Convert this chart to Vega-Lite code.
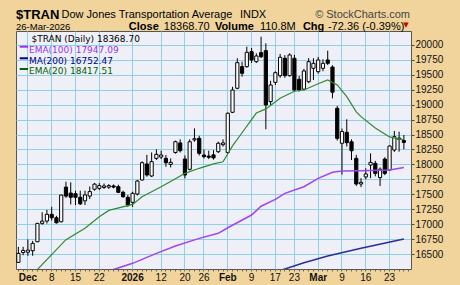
{
"$schema": "https://vega.github.io/schema/vega-lite/v6.json",
"width": 395, "height": 238,
"autosize": {"type": "none"},
"padding": {"left": 16, "top": 31, "right": 49, "bottom": 16},
"background": "#F0D49C",
"config": {"view": {"stroke": "#555555", "fill": "#EFEFF7", "strokeWidth": 1}, "font": "Liberation Sans", "axis": {"gridColor": "#8FD0E6", "gridWidth": 1}},
"datasets": {
"ohlc": [
{"d":"2025-11-26","o":16360,"h":16620,"l":16350,"c":16511},
{"d":"2025-11-28","o":16525,"h":16620,"l":16480,"c":16560},
{"d":"2025-12-01","o":16530,"h":16745,"l":16470,"c":16565},
{"d":"2025-12-02","o":16555,"h":16720,"l":16470,"c":16678},
{"d":"2025-12-03","o":16705,"h":17020,"l":16700,"c":17013},
{"d":"2025-12-04","o":17013,"h":17200,"l":16990,"c":17050},
{"d":"2025-12-05","o":17052,"h":17240,"l":17010,"c":17164},
{"d":"2025-12-08","o":17164,"h":17290,"l":17060,"c":17107},
{"d":"2025-12-09","o":17107,"h":17140,"l":17010,"c":17023},
{"d":"2025-12-10","o":17040,"h":17490,"l":17030,"c":17487},
{"d":"2025-12-11","o":17620,"h":17710,"l":17440,"c":17470},
{"d":"2025-12-12","o":17520,"h":17700,"l":17330,"c":17450},
{"d":"2025-12-15","o":17510,"h":17560,"l":17320,"c":17450},
{"d":"2025-12-16","o":17450,"h":17560,"l":17320,"c":17340},
{"d":"2025-12-17","o":17390,"h":17560,"l":17320,"c":17490},
{"d":"2025-12-18","o":17470,"h":17630,"l":17420,"c":17545},
{"d":"2025-12-19","o":17585,"h":17690,"l":17560,"c":17670},
{"d":"2025-12-22","o":17600,"h":17690,"l":17570,"c":17645},
{"d":"2025-12-23","o":17615,"h":17680,"l":17590,"c":17640},
{"d":"2025-12-24","o":17620,"h":17670,"l":17590,"c":17645},
{"d":"2025-12-26","o":17640,"h":17665,"l":17600,"c":17620},
{"d":"2025-12-29","o":17627,"h":17660,"l":17520,"c":17533},
{"d":"2025-12-30","o":17533,"h":17560,"l":17440,"c":17460},
{"d":"2025-12-31","o":17449,"h":17490,"l":17290,"c":17320},
{"d":"2026-01-02","o":17365,"h":17543,"l":17290,"c":17516},
{"d":"2026-01-05","o":17504,"h":17740,"l":17480,"c":17722},
{"d":"2026-01-06","o":17739,"h":18050,"l":17730,"c":18029},
{"d":"2026-01-07","o":18007,"h":18160,"l":17794,"c":17823},
{"d":"2026-01-08","o":17806,"h":18200,"l":17790,"c":18046},
{"d":"2026-01-09","o":18102,"h":18253,"l":18074,"c":18169},
{"d":"2026-01-12","o":18124,"h":18230,"l":18090,"c":18158},
{"d":"2026-01-13","o":18102,"h":18158,"l":17962,"c":18029},
{"d":"2026-01-14","o":18000,"h":18100,"l":17950,"c":18035},
{"d":"2026-01-15","o":18200,"h":18400,"l":18180,"c":18380},
{"d":"2026-01-16","o":18360,"h":18420,"l":18200,"c":18230},
{"d":"2026-01-20","o":18091,"h":18150,"l":17767,"c":17823},
{"d":"2026-01-21","o":17918,"h":18420,"l":17900,"c":18380},
{"d":"2026-01-22","o":18410,"h":18604,"l":18380,"c":18430},
{"d":"2026-01-23","o":18437,"h":18480,"l":18150,"c":18186},
{"d":"2026-01-26","o":18158,"h":18250,"l":18100,"c":18130},
{"d":"2026-01-27","o":18140,"h":18230,"l":18090,"c":18120},
{"d":"2026-01-28","o":18160,"h":18240,"l":18080,"c":18110},
{"d":"2026-01-29","o":18213,"h":18380,"l":18190,"c":18354},
{"d":"2026-01-30","o":18330,"h":18420,"l":18300,"c":18360},
{"d":"2026-02-02","o":18200,"h":18870,"l":18180,"c":18857},
{"d":"2026-02-03","o":18873,"h":19300,"l":18860,"c":19246},
{"d":"2026-02-04","o":19275,"h":19777,"l":19260,"c":19704},
{"d":"2026-02-05","o":19637,"h":19720,"l":19469,"c":19526},
{"d":"2026-02-06","o":19637,"h":19972,"l":19620,"c":19877},
{"d":"2026-02-09","o":19888,"h":19950,"l":19700,"c":19749},
{"d":"2026-02-10","o":19720,"h":19860,"l":19700,"c":19816},
{"d":"2026-02-11","o":19871,"h":20139,"l":19780,"c":19804},
{"d":"2026-02-12","o":19905,"h":20028,"l":18588,"c":18995},
{"d":"2026-02-13","o":19051,"h":19400,"l":18995,"c":19330},
{"d":"2026-02-17","o":19375,"h":19560,"l":19330,"c":19536},
{"d":"2026-02-18","o":19486,"h":19849,"l":19450,"c":19794},
{"d":"2026-02-19","o":19777,"h":19830,"l":19450,"c":19486},
{"d":"2026-02-20","o":19486,"h":19860,"l":19470,"c":19833},
{"d":"2026-02-23","o":19777,"h":19833,"l":19218,"c":19246},
{"d":"2026-02-24","o":19425,"h":19480,"l":19220,"c":19246},
{"d":"2026-02-25","o":19260,"h":19600,"l":19240,"c":19565},
{"d":"2026-02-26","o":19385,"h":19780,"l":19360,"c":19720},
{"d":"2026-02-27","o":19610,"h":19777,"l":19414,"c":19693},
{"d":"2026-03-02","o":19553,"h":19800,"l":19520,"c":19749},
{"d":"2026-03-03","o":19610,"h":19760,"l":19560,"c":19693},
{"d":"2026-03-04","o":19749,"h":19905,"l":19665,"c":19693},
{"d":"2026-03-05","o":19630,"h":19660,"l":19107,"c":19210},
{"d":"2026-03-06","o":18940,"h":18980,"l":18400,"c":18437},
{"d":"2026-03-09","o":18354,"h":18600,"l":17830,"c":18550},
{"d":"2026-03-10","o":18538,"h":18756,"l":18300,"c":18364},
{"d":"2026-03-11","o":18380,"h":18420,"l":18074,"c":18229},
{"d":"2026-03-12","o":18102,"h":18160,"l":17640,"c":17672},
{"d":"2026-03-13","o":17672,"h":17770,"l":17620,"c":17700},
{"d":"2026-03-16","o":17790,"h":17935,"l":17750,"c":17840},
{"d":"2026-03-17","o":17990,"h":18186,"l":17770,"c":18035},
{"d":"2026-03-18","o":18018,"h":18060,"l":17800,"c":17850},
{"d":"2026-03-19","o":17780,"h":17950,"l":17638,"c":17920},
{"d":"2026-03-20","o":18090,"h":18120,"l":17820,"c":17850},
{"d":"2026-03-23","o":17906,"h":18320,"l":17890,"c":18308},
{"d":"2026-03-24","o":18241,"h":18560,"l":18210,"c":18464},
{"d":"2026-03-25","o":18420,"h":18548,"l":18213,"c":18441},
{"d":"2026-03-26","o":18400,"h":18493,"l":18253,"c":18368.7}
],
"ema20": [
{"d":"2025-12-01","v":16075},{"d":"2025-12-03","v":16240},{"d":"2025-12-11","v":16740},{"d":"2025-12-17","v":16930},
{"d":"2025-12-22","v":17124},{"d":"2025-12-24","v":17230},{"d":"2026-01-02","v":17330},{"d":"2026-01-06","v":17459},
{"d":"2026-01-12","v":17626},{"d":"2026-01-15","v":17760},{"d":"2026-01-20","v":17851},{"d":"2026-01-23","v":17935},
{"d":"2026-01-28","v":18010},{"d":"2026-01-30","v":18045},{"d":"2026-02-03","v":18310},{"d":"2026-02-05","v":18530},
{"d":"2026-02-10","v":18860},{"d":"2026-02-12","v":18930},{"d":"2026-02-18","v":19107},{"d":"2026-02-23","v":19225},
{"d":"2026-02-25","v":19246},{"d":"2026-03-02","v":19350},{"d":"2026-03-04","v":19414},{"d":"2026-03-06","v":19330},
{"d":"2026-03-10","v":19134},{"d":"2026-03-12","v":18880},{"d":"2026-03-13","v":18800},{"d":"2026-03-18","v":18610},
{"d":"2026-03-23","v":18460},{"d":"2026-03-25","v":18425},{"d":"2026-03-26","v":18417.51}
],
"ema100": [
{"d":"2025-12-22","v":16140},{"d":"2025-12-26","v":16240},{"d":"2026-01-02","v":16344},{"d":"2026-01-09","v":16511},
{"d":"2026-01-15","v":16633},{"d":"2026-01-23","v":16762},{"d":"2026-01-29","v":16846},{"d":"2026-02-02","v":16940},
{"d":"2026-02-09","v":17153},{"d":"2026-02-11","v":17300},{"d":"2026-02-17","v":17415},{"d":"2026-02-19","v":17516},
{"d":"2026-02-25","v":17627},{"d":"2026-03-02","v":17767},{"d":"2026-03-05","v":17868},{"d":"2026-03-09","v":17890},
{"d":"2026-03-13","v":17895},{"d":"2026-03-23","v":17906},{"d":"2026-03-26","v":17947.09}
],
"ma200": [
{"d":"2026-02-12","v":16150},{"d":"2026-02-19","v":16249},{"d":"2026-02-25","v":16354},{"d":"2026-03-04","v":16466},
{"d":"2026-03-13","v":16595},{"d":"2026-03-26","v":16752.47}
]
},
"layer": [
{
 "data": {"name": "ohlc"},
 "mark": {"type": "rule", "color": "#000000", "strokeWidth": 1},
 "encoding": {
  "x": {"field": "d", "type": "ordinal", "bandPosition": 0.5,
   "scale": {"domain": ["2025-11-26","2025-11-28","2025-12-01","2025-12-02","2025-12-03","2025-12-04","2025-12-05","2025-12-08","2025-12-09","2025-12-10","2025-12-11","2025-12-12","2025-12-15","2025-12-16","2025-12-17","2025-12-18","2025-12-19","2025-12-22","2025-12-23","2025-12-24","2025-12-26","2025-12-29","2025-12-30","2025-12-31","2026-01-02","2026-01-05","2026-01-06","2026-01-07","2026-01-08","2026-01-09","2026-01-12","2026-01-13","2026-01-14","2026-01-15","2026-01-16","2026-01-20","2026-01-21","2026-01-22","2026-01-23","2026-01-26","2026-01-27","2026-01-28","2026-01-29","2026-01-30","2026-02-02","2026-02-03","2026-02-04","2026-02-05","2026-02-06","2026-02-09","2026-02-10","2026-02-11","2026-02-12","2026-02-13","2026-02-17","2026-02-18","2026-02-19","2026-02-20","2026-02-23","2026-02-24","2026-02-25","2026-02-26","2026-02-27","2026-03-02","2026-03-03","2026-03-04","2026-03-05","2026-03-06","2026-03-09","2026-03-10","2026-03-11","2026-03-12","2026-03-13","2026-03-16","2026-03-17","2026-03-18","2026-03-19","2026-03-20","2026-03-23","2026-03-24","2026-03-25","2026-03-26","2026-03-27"], "paddingInner": 0, "paddingOuter": 0},
   "axis": {"orient": "bottom", "title": null, "domain": false, "tickSize": 2, "tickColor": "#666666", "bandPosition": 0.5, "zindex": 0,
    "grid": true, "gridColor": "#8FD0E6", "gridWidth": 1,
    "gridOpacity": {"condition": {"test": "indexof(['2025-12-01','2025-12-08','2025-12-15','2025-12-22','2026-01-02','2026-01-12','2026-01-20','2026-01-26','2026-02-02','2026-02-09','2026-02-17','2026-02-23','2026-03-02','2026-03-09','2026-03-16','2026-03-23'], datum.value) >= 0", "value": 1}, "value": 0},
    "labelExpr": "datum.value == '2025-12-01' ? 'Dec' : datum.value == '2026-01-02' ? '2026' : datum.value == '2026-02-02' ? 'Feb' : datum.value == '2026-03-02' ? 'Mar' : indexof(['2025-12-08','2025-12-15','2025-12-22','2026-01-12','2026-01-20','2026-01-26','2026-02-09','2026-02-17','2026-02-23','2026-03-09','2026-03-16','2026-03-23'], datum.value) >= 0 ? '' + toNumber(substring(datum.value, 8, 10)) : ''",
    "labelFontWeight": {"condition": {"test": "indexof(['2025-12-01','2026-01-02','2026-02-02','2026-03-02'], datum.value) >= 0", "value": "bold"}, "value": "normal"},
    "labelFont": "Liberation Sans", "labelFontSize": 10, "labelColor": "#111111", "labelPadding": 1, "labelAngle": 0,
    "labelOverlap": false, "labelBound": false, "labelFlush": false}},
  "y": {"field": "l", "type": "quantitative",
   "scale": {"domain": [16249, 20234], "nice": false, "zero": false},
   "axis": {"orient": "right", "title": null, "values": [16500,16750,17000,17250,17500,17750,18000,18250,18500,18750,19000,19250,19500,19750,20000],
    "tickCount": 40, "format": "d", "grid": true, "gridColor": "#8FD0E6", "gridWidth": 1, "domain": false, "tickSize": 3, "tickColor": "#444444", "zindex": 0,
    "labelFont": "Liberation Sans", "labelFontSize": 10, "labelColor": "#111111", "labelPadding": 1,
    "labelOverlap": false, "labelBound": false, "labelFlush": false}},
  "y2": {"field": "h"}
 }
},
{
 "data": {"name": "ohlc"},
 "mark": {"type": "bar", "width": 3.2, "stroke": "#000000", "strokeWidth": 1},
 "encoding": {
  "x": {"field": "d", "type": "ordinal"},
  "y": {"field": "o", "type": "quantitative", "axis": {"orient": "right"}},
  "y2": {"field": "c"},
  "fill": {"condition": {"test": "datum.c >= datum.o", "value": "#FFFFFF"}, "value": "#000000"}
 }
},
{
 "data": {"name": "ema100"},
 "mark": {"type": "line", "color": "#A045F0", "strokeWidth": 1.5, "clip": true},
 "encoding": {"x": {"field": "d", "type": "ordinal", "bandPosition": 0.5}, "y": {"field": "v", "type": "quantitative", "axis": {"orient": "right"}}}
},
{
 "data": {"name": "ma200"},
 "mark": {"type": "line", "color": "#2A2E96", "strokeWidth": 1.5, "clip": true},
 "encoding": {"x": {"field": "d", "type": "ordinal", "bandPosition": 0.5}, "y": {"field": "v", "type": "quantitative", "axis": {"orient": "right"}}}
},
{
 "data": {"name": "ema20"},
 "mark": {"type": "line", "color": "#2E8B2E", "strokeWidth": 1.2, "clip": true},
 "encoding": {"x": {"field": "d", "type": "ordinal", "bandPosition": 0.5}, "y": {"field": "v", "type": "quantitative", "axis": {"orient": "right"}}}
},
{
 "data": {"values": [{"t": "$TRAN"}]},
 "mark": {"type": "text", "align": "left", "font": "Liberation Sans", "fontSize": 13, "fontWeight": "bold", "color": "#000000"},
 "encoding": {"x": {"datum": "2025-11-26", "type": "ordinal", "bandPosition": 0}, "y": {"datum": 20507, "type": "quantitative", "axis": {"orient": "right"}}, "text": {"field": "t"}}
},
{
 "data": {"values": [{"t": "Dow Jones Transportation Average"}]},
 "mark": {"type": "text", "align": "left", "font": "Liberation Sans", "fontSize": 11, "color": "#000000"},
 "encoding": {"x": {"datum": "2025-12-10", "type": "ordinal", "bandPosition": 0.55}, "y": {"datum": 20507, "type": "quantitative", "axis": {"orient": "right"}}, "text": {"field": "t"}}
},
{
 "data": {"values": [{"t": "INDX"}]},
 "mark": {"type": "text", "align": "left", "font": "Liberation Sans", "fontSize": 11, "color": "#000000"},
 "encoding": {"x": {"datum": "2026-02-05", "type": "ordinal", "bandPosition": 0.05}, "y": {"datum": 20507, "type": "quantitative", "axis": {"orient": "right"}}, "text": {"field": "t"}}
},
{
 "data": {"values": [{"t": "© StockCharts.com"}]},
 "mark": {"type": "text", "align": "right", "font": "Liberation Sans", "fontSize": 11, "color": "#444444"},
 "encoding": {"x": {"datum": "2026-03-27", "type": "ordinal", "bandPosition": 0.8}, "y": {"datum": 20507, "type": "quantitative", "axis": {"orient": "right"}}, "text": {"field": "t"}}
},
{
 "data": {"values": [{"t": "26-Mar-2026"}]},
 "mark": {"type": "text", "align": "left", "font": "Liberation Sans", "fontSize": 9.5, "color": "#000000"},
 "encoding": {"x": {"datum": "2025-11-26", "type": "ordinal", "bandPosition": 0}, "y": {"datum": 20306, "type": "quantitative", "axis": {"orient": "right"}}, "text": {"field": "t"}}
},
{
 "data": {"values": [{"t": "Close"}]},
 "mark": {"type": "text", "align": "left", "font": "Liberation Sans", "fontSize": 11, "fontWeight": "bold", "color": "#000000"},
 "encoding": {"x": {"datum": "2025-12-31", "type": "ordinal", "bandPosition": 0.7}, "y": {"datum": 20306, "type": "quantitative", "axis": {"orient": "right"}}, "text": {"field": "t"}}
},
{
 "data": {"values": [{"t": "18368.70"}]},
 "mark": {"type": "text", "align": "left", "font": "Liberation Sans", "fontSize": 11, "color": "#000000"},
 "encoding": {"x": {"datum": "2026-01-13", "type": "ordinal", "bandPosition": 0.06}, "y": {"datum": 20306, "type": "quantitative", "axis": {"orient": "right"}}, "text": {"field": "t"}}
},
{
 "data": {"values": [{"t": "Volume"}]},
 "mark": {"type": "text", "align": "left", "font": "Liberation Sans", "fontSize": 11, "fontWeight": "bold", "color": "#000000"},
 "encoding": {"x": {"datum": "2026-01-28", "type": "ordinal", "bandPosition": 0.79}, "y": {"datum": 20306, "type": "quantitative", "axis": {"orient": "right"}}, "text": {"field": "t"}}
},
{
 "data": {"values": [{"t": "110.8M"}]},
 "mark": {"type": "text", "align": "left", "font": "Liberation Sans", "fontSize": 11, "color": "#000000"},
 "encoding": {"x": {"datum": "2026-02-11", "type": "ordinal", "bandPosition": 0.25}, "y": {"datum": 20306, "type": "quantitative", "axis": {"orient": "right"}}, "text": {"field": "t"}}
},
{
 "data": {"values": [{"t": "Chg"}]},
 "mark": {"type": "text", "align": "left", "font": "Liberation Sans", "fontSize": 11, "fontWeight": "bold", "color": "#000000"},
 "encoding": {"x": {"datum": "2026-02-25", "type": "ordinal", "bandPosition": 0.29}, "y": {"datum": 20306, "type": "quantitative", "axis": {"orient": "right"}}, "text": {"field": "t"}}
},
{
 "data": {"values": [{"t": "-72.36 (-0.39%)"}]},
 "mark": {"type": "text", "align": "left", "font": "Liberation Sans", "fontSize": 11, "color": "#000000"},
 "encoding": {"x": {"datum": "2026-03-04", "type": "ordinal", "bandPosition": 0.55}, "y": {"datum": 20306, "type": "quantitative", "axis": {"orient": "right"}}, "text": {"field": "t"}}
},
{
 "data": {"values": [{"t": "▼"}]},
 "mark": {"type": "text", "align": "center", "font": "DejaVu Sans", "fontSize": 7, "color": "#CC0000"},
 "encoding": {"x": {"datum": "2026-03-26", "type": "ordinal", "bandPosition": 0.96}, "y": {"datum": 20340, "type": "quantitative", "axis": {"orient": "right"}}, "text": {"field": "t"}}
},
{
 "data": {"values": [{"t": "$TRAN (Daily) 18368.70"}]},
 "mark": {"type": "text", "align": "left", "font": "DejaVu Sans", "fontSize": 9, "color": "#000000"},
 "encoding": {"x": {"datum": "2025-12-02", "type": "ordinal", "bandPosition": 0.24}, "y": {"datum": 20100, "type": "quantitative", "axis": {"orient": "right"}}, "text": {"field": "t"}}
},
{
 "data": {"values": [{"t": "EMA(100) 17947.09"}]},
 "mark": {"type": "text", "align": "left", "font": "DejaVu Sans", "fontSize": 9, "color": "#9933EE"},
 "encoding": {"x": {"datum": "2025-12-01", "type": "ordinal", "bandPosition": 0.73}, "y": {"datum": 19924, "type": "quantitative", "axis": {"orient": "right"}}, "text": {"field": "t"}}
},
{
 "data": {"values": [{"t": "MA(200) 16752.47"}]},
 "mark": {"type": "text", "align": "left", "font": "DejaVu Sans", "fontSize": 9, "color": "#000088"},
 "encoding": {"x": {"datum": "2025-12-01", "type": "ordinal", "bandPosition": 0.73}, "y": {"datum": 19740, "type": "quantitative", "axis": {"orient": "right"}}, "text": {"field": "t"}}
},
{
 "data": {"values": [{"t": "EMA(20) 18417.51"}]},
 "mark": {"type": "text", "align": "left", "font": "DejaVu Sans", "fontSize": 9, "color": "#006400"},
 "encoding": {"x": {"datum": "2025-12-01", "type": "ordinal", "bandPosition": 0.73}, "y": {"datum": 19556, "type": "quantitative", "axis": {"orient": "right"}}, "text": {"field": "t"}}
},
{
 "data": {"values": [{"s": "EMA(100)", "v": 19971}, {"s": "MA(200)", "v": 19777}, {"s": "EMA(20)", "v": 19598}]},
 "mark": {"type": "rule", "strokeWidth": 2},
 "encoding": {
  "x": {"datum": "2025-11-26", "type": "ordinal", "bandPosition": 0.78},
  "x2": {"datum": "2025-12-01", "bandPosition": 0.52},
  "y": {"field": "v", "type": "quantitative", "axis": {"orient": "right"}},
  "color": {"field": "s", "type": "nominal", "legend": null, "scale": {"domain": ["EMA(100)", "MA(200)", "EMA(20)"], "range": ["#9933EE", "#000088", "#006400"]}}
 }
}
]
}
